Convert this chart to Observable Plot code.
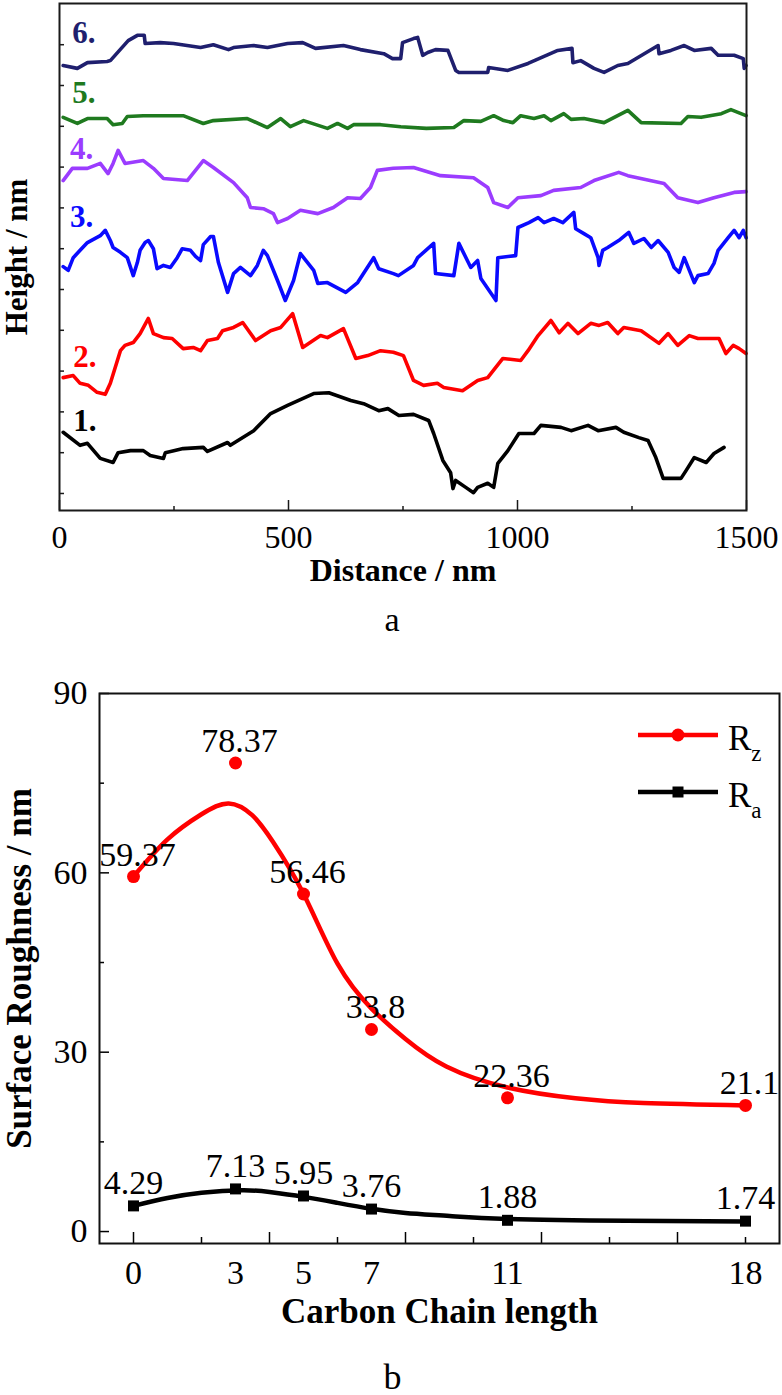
<!DOCTYPE html>
<html><head><meta charset="utf-8">
<script src="https://cdn.jsdelivr.net/npm/d3@7"></script>
<script src="https://cdn.jsdelivr.net/npm/@observablehq/plot@0.6"></script>
<style>
body{margin:0;background:#fff;}
#wrap{position:relative;width:782px;height:1395px;background:#fff;}
#pa{position:absolute;left:0;top:0;}
#pb{position:absolute;left:0;top:640px;}
#leg{position:absolute;left:0;top:0;pointer-events:none;}
</style></head><body>
<div id="wrap"><div id="pa"></div><div id="pb"></div></div>
<script>
// ---------- Panel a: height profiles (distance nm, height, arbitrary offset units) ----------
const profile1 = [[8,25.0],[45,21.8],[61,22.3],[89,18.6],[117,17.6],[128,20.0],[155,20.5],[183,20.5],[198,19.3],[227,18.6],[231,20.0],[270,21.0],[314,21.3],[323,20.3],[367,22.5],[373,21.8],[424,25.4],[461,29.6],[498,31.6],[555,34.5],[588,34.7],[636,32.8],[664,32.0],[697,30.3],[717,30.8],[741,29.1],[773,29.4],[806,27.9],[817,24.7],[837,18.1],[854,15.1],[859,11.2],[865,13.2],[887,11.5],[904,10.2],[913,11.5],[935,12.5],[948,11.5],[957,17.4],[979,20.5],[1003,24.7],[1036,24.7],[1051,26.7],[1095,26.2],[1117,25.4],[1154,26.7],[1176,25.4],[1215,26.2],[1232,25.0],[1265,23.7],[1285,23.0],[1302,18.8],[1318,13.7],[1357,13.7],[1368,15.6],[1386,18.8],[1412,17.6],[1429,19.8],[1451,21.3]];
const profile2 = [[8,38.4],[30,38.9],[45,37.0],[63,36.5],[82,34.8],[100,34.3],[111,37.0],[133,45.0],[143,46.3],[161,47.0],[176,49.2],[194,52.9],[205,49.2],[227,48.2],[246,48.0],[270,45.5],[292,45.8],[308,45.0],[323,47.5],[345,48.0],[356,49.9],[380,50.7],[400,51.9],[428,47.5],[461,49.9],[483,50.7],[509,54.1],[531,45.8],[570,48.7],[585,48.2],[620,50.4],[647,43.1],[673,43.8],[701,45.0],[729,44.6],[751,43.8],[773,37.7],[795,36.5],[825,37.0],[839,36.0],[880,35.2],[913,37.7],[935,38.4],[968,43.1],[1007,42.6],[1023,45.0],[1045,48.7],[1073,52.4],[1091,49.4],[1110,51.7],[1132,49.2],[1160,51.7],[1178,51.2],[1197,51.9],[1219,49.2],[1232,50.7],[1270,49.9],[1309,46.8],[1329,49.2],[1350,46.3],[1375,48.7],[1394,48.0],[1440,48.0],[1455,44.3],[1471,46.3],[1484,45.5],[1499,44.3]];
const profile3 = [[8,65.6],[19,64.7],[30,67.8],[45,69.6],[61,71.5],[89,73.2],[100,74.5],[111,72.0],[117,70.3],[133,69.1],[148,67.8],[161,63.4],[170,66.6],[176,69.6],[187,71.5],[194,72.0],[205,70.0],[213,65.1],[227,65.9],[242,65.4],[257,67.8],[268,70.0],[286,69.6],[297,68.1],[308,67.1],[314,71.0],[330,73.0],[336,73.0],[347,66.6],[367,59.3],[380,63.9],[395,65.4],[417,63.4],[432,65.9],[445,69.6],[454,68.3],[476,62.2],[493,57.3],[511,62.2],[526,68.8],[555,64.7],[564,61.5],[585,61.7],[625,59.3],[651,61.7],[686,67.8],[697,65.1],[729,63.9],[740,63.4],[773,65.9],[782,67.8],[817,71.3],[821,63.9],[861,63.4],[872,71.3],[898,65.4],[913,67.1],[920,62.7],[953,57.3],[957,67.8],[996,68.3],[1001,75.2],[1025,76.4],[1045,77.6],[1058,76.4],[1079,77.4],[1099,76.4],[1123,78.9],[1127,74.9],[1145,73.7],[1160,72.7],[1176,67.8],[1178,65.9],[1186,69.6],[1197,70.3],[1221,72.0],[1243,74.0],[1254,71.3],[1276,72.5],[1292,70.3],[1307,72.0],[1329,69.1],[1342,65.4],[1353,64.2],[1364,67.8],[1386,61.7],[1394,63.4],[1416,63.9],[1429,66.4],[1438,69.6],[1460,72.7],[1473,74.5],[1484,72.7],[1493,74.5],[1499,72.7]];
const profile4 = [[8,86.7],[28,89.7],[61,89.7],[89,90.9],[106,88.4],[117,90.9],[128,94.1],[143,90.9],[183,91.6],[205,89.7],[227,87.2],[279,86.7],[314,91.6],[336,89.9],[380,86.2],[410,82.5],[417,80.1],[445,79.8],[467,78.6],[476,76.4],[498,77.4],[526,79.4],[564,78.6],[598,80.1],[629,82.5],[657,82.3],[679,85.0],[694,89.2],[729,89.7],[773,89.9],[832,87.9],[904,87.4],[935,85.0],[948,81.3],[979,80.1],[1001,82.5],[1051,83.0],[1079,84.3],[1138,85.0],[1167,86.7],[1221,88.7],[1241,87.9],[1320,86.0],[1350,82.5],[1394,81.3],[1429,82.5],[1473,83.8],[1499,84.0]];
const profile5 = [[8,102.2],[39,100.7],[61,101.9],[104,101.9],[117,100.4],[137,100.7],[148,102.4],[183,102.6],[270,102.6],[314,100.7],[336,101.4],[410,101.9],[454,99.7],[483,101.9],[504,99.9],[533,101.4],[585,99.5],[607,100.7],[629,99.5],[642,100.4],[701,100.4],[745,99.9],[801,99.5],[861,99.7],[883,101.4],[920,101.2],[948,102.6],[970,101.4],[990,100.9],[1007,102.6],[1036,101.9],[1058,102.6],[1073,101.4],[1101,103.1],[1117,101.7],[1145,101.9],[1189,100.9],[1241,103.9],[1270,100.9],[1357,100.7],[1372,102.4],[1401,102.2],[1445,103.1],[1466,104.1],[1499,102.6]];
const profile6 = [[8,114.9],[39,114.2],[61,115.6],[104,115.9],[111,116.1],[150,121.0],[170,122.3],[185,122.3],[187,120.3],[220,120.5],[249,120.3],[308,119.3],[336,120.0],[369,118.8],[380,119.3],[424,119.8],[454,119.3],[498,120.3],[531,120.5],[559,119.1],[620,119.8],[657,118.8],[708,117.8],[727,116.6],[745,116.6],[749,120.5],[773,121.5],[782,121.8],[793,117.4],[804,118.1],[821,118.8],[848,118.6],[865,113.7],[872,113.2],[935,113.2],[937,114.4],[979,113.7],[1023,115.4],[1088,118.6],[1119,119.1],[1121,115.6],[1138,116.1],[1167,114.2],[1189,113.2],[1219,114.9],[1241,115.4],[1307,119.8],[1309,117.8],[1335,118.6],[1364,119.8],[1386,118.6],[1423,119.1],[1438,117.4],[1473,117.4],[1493,116.6],[1495,114.2],[1499,114.9]];
const seriesNames = ["1.","2.","3.","4.","5.","6."];
const seriesColors = ["#000000","#ff0000","#0a0aff","#9b3cff","#1f7a1f","#1f1f6e"];
const labelDistance = [30,30,23,23,28,28];
const labelHeight = [25.4,40.9,75.2,92.1,105.6,120.3];
const distanceTicks = [0,500,1000,1500];
const distanceMinor = [250,750,1250];
const heightTicks = [10,20,30,40,50,60,70,80,90,100,110,120];

// ---------- Panel b: surface roughness ----------
const carbon = [0,3,5,7,11,18];
const rz = [59.37,78.37,56.46,33.8,22.36,21.1];
const ra = [4.29,7.13,5.95,3.76,1.88,1.74];
const rzText = ["59.37","78.37","56.46","33.8","22.36","21.1"];
const raText = ["4.29","7.13","5.95","3.76","1.88","1.74"];
const rzFit = [[0,59.4],[1,65.6],[2,69.8],[2.8,71.6],[3.5,69.6],[4.1,65.2],[5,56.5],[6,44.8],[7,37.3],[8,32.2],[9.2,27.6],[11,24.1],[13,22.3],[15,21.5],[18,21.1]];
const raFit = [[0,4.3],[1,5.6],[2,6.5],[3.2,6.9],[4,6.6],[5,5.8],[6,4.8],[7,3.8],[8,3.1],[9.3,2.6],[11,2.1],[14.5,1.8],[18,1.7]];
const roughTicks = [0,30,60,90];
const roughMinor = [15,45,75];
const carbonMajor = [0,4,8,12,16];
const carbonMinor = [2,6,10,14,18];

const FONT = "'Liberation Serif','Times New Roman',serif";

// ----- build panel a -----
const profiles = [profile1,profile2,profile3,profile4,profile5,profile6];
const rows = profiles.flatMap((p,i)=>p.map(([d,h])=>({series:seriesNames[i], d, h})));
const labelRows = seriesNames.map((s,i)=>({series:s, d:labelDistance[i], h:labelHeight[i]}));
const aW = 782, aH = 640, aL = 59, aR = 36, aT = 3, aB = 130;
const aInnerW = aW - aL - aR, aInnerH = aH - aT - aB;

const plotA = Plot.plot({
  width: aW, height: aH,
  marginLeft: aL, marginRight: aR, marginTop: aT, marginBottom: aB,
  x: {domain: [0,1500], axis: null},
  y: {domain: [5.83,130.1], axis: null},
  color: {domain: seriesNames, range: seriesColors},
  style: {fontFamily: FONT, background: "white", overflow: "visible"},
  marks: [
    Plot.line(rows, {x:"d", y:"h", z:"series", stroke:"series", strokeWidth:3.6, strokeLinejoin:"round", strokeLinecap:"round"}),
    Plot.text(labelRows, {x:"d", y:"h", text:"series", fill:"series", textAnchor:"start", lineAnchor:"bottom", fontSize:31, fontWeight:"bold"}),
    Plot.tickX(distanceTicks, {x:d=>d, insetTop: aInnerH-10, stroke:"#1a1a1a", strokeWidth:1.5}),
    Plot.tickX(distanceMinor, {x:d=>d, insetTop: aInnerH-4, stroke:"#1a1a1a", strokeWidth:1.5}),
    Plot.tickY(heightTicks, {y:d=>d, insetRight: aInnerW-5, stroke:"#1a1a1a", strokeWidth:1.5}),
    Plot.frame({stroke:"#1a1a1a", strokeWidth:2}),
    Plot.text(distanceTicks, {x:d=>d, text:d=>String(d), frameAnchor:"bottom", lineAnchor:"bottom", dy:37, fontSize:32}),
    Plot.text(["Distance / nm"], {frameAnchor:"bottom", lineAnchor:"bottom", dy:70, fontSize:32, fontWeight:"bold"}),
    Plot.text(["Height / nm"], {frameAnchor:"left", textAnchor:"middle", rotate:-90, dx:-42, fontSize:31, fontWeight:"bold"}),
    Plot.text(["a"], {frameAnchor:"bottom", lineAnchor:"bottom", dy:120, dx:-11, fontSize:34})
  ]
});
document.getElementById("pa").appendChild(plotA);

// ----- build panel b -----
const pts = carbon.map((c,i)=>({c, rz:rz[i], ra:ra[i], rzT:rzText[i], raT:raText[i]}));
const bW = 782, bH = 755, bL = 99, bR = 3, bT = 53, bB = 152;
const bInnerW = bW - bL - bR, bInnerH = bH - bT - bB;
const plotB = Plot.plot({
  width: bW, height: bH,
  marginLeft: bL, marginRight: bR, marginTop: bT, marginBottom: bB,
  x: {domain: [-1,19], axis: null},
  y: {domain: [-2,90], axis: null},
  style: {fontFamily: FONT, background: "white", overflow: "visible"},
  marks: [
    Plot.line(rzFit, {x:d=>d[0], y:d=>d[1], stroke:"#ff0000", strokeWidth:4.5, curve:"natural"}),
    Plot.line(raFit, {x:d=>d[0], y:d=>d[1], stroke:"#000000", strokeWidth:4.5, curve:"natural"}),
    Plot.dot(pts, {x:"c", y:"rz", r:6.5, fill:"#ff0000", stroke:null}),
    Plot.dot(pts, {x:"c", y:"ra", r:6.2, symbol:"square", fill:"#000000", stroke:null}),
    Plot.text(pts, {x:"c", y:"rz", text:"rzT", lineAnchor:"bottom", dy:-11, dx:4, fontSize:34}),
    Plot.text(pts, {x:"c", y:"ra", text:"raT", lineAnchor:"bottom", dy:-12, fontSize:34}),
    Plot.tickX(carbonMajor, {x:d=>d, insetTop: bInnerH-11, stroke:"#000", strokeWidth:1.5}),
    Plot.tickX(carbonMinor, {x:d=>d, insetTop: bInnerH-6, stroke:"#000", strokeWidth:1.5}),
    Plot.tickY(roughTicks, {y:d=>d, insetRight: bInnerW-10, stroke:"#000", strokeWidth:1.5}),
    Plot.tickY(roughMinor, {y:d=>d, insetRight: bInnerW-5, stroke:"#000", strokeWidth:1.5}),
    Plot.frame({stroke:"#111", strokeWidth:2}),
    Plot.text(carbon, {x:d=>d, text:d=>String(d), frameAnchor:"bottom", lineAnchor:"bottom", dy:40, fontSize:34}),
    Plot.text(roughTicks, {y:d=>d, text:d=>String(d), frameAnchor:"left", textAnchor:"end", dx:-12, fontSize:34}),
    Plot.text(["Carbon Chain length"], {frameAnchor:"bottom", lineAnchor:"bottom", dy:79, fontSize:35, fontWeight:"bold"}),
    Plot.text(["Surface Roughness / nm"], {frameAnchor:"left", textAnchor:"middle", rotate:-90, dx:-80, fontSize:35, fontWeight:"bold"}),
    Plot.text(["b"], {frameAnchor:"bottom", lineAnchor:"bottom", dy:145, dx:-47, fontSize:36})
  ]
});
document.getElementById("pb").appendChild(plotB);

// ----- legend for panel b -----
const legendItems = [
  {main:"R", sub:"z", color:"#ff0000", symbol:"circle"},
  {main:"R", sub:"a", color:"#000000", symbol:"square"}
];
const leg = d3.select("#wrap").append("svg").attr("id","leg").attr("width",782).attr("height",1395);
legendItems.forEach((it,i)=>{
  const y = 735 + i*57;
  const g = leg.append("g");
  g.append("line").attr("x1",638).attr("x2",718).attr("y1",y).attr("y2",y).attr("stroke",it.color).attr("stroke-width",4.5);
  if (it.symbol==="circle") g.append("circle").attr("cx",678).attr("cy",y).attr("r",6.5).attr("fill",it.color);
  else g.append("rect").attr("x",672.5).attr("y",y-5.5).attr("width",11).attr("height",11).attr("fill",it.color);
  const t = g.append("text").attr("x",728).attr("y",y+15).attr("font-family",FONT).attr("font-size",35).attr("fill","#000");
  t.append("tspan").text(it.main);
  t.append("tspan").attr("dy",11).attr("font-size",23).text(it.sub);
});
</script>
</body></html>
